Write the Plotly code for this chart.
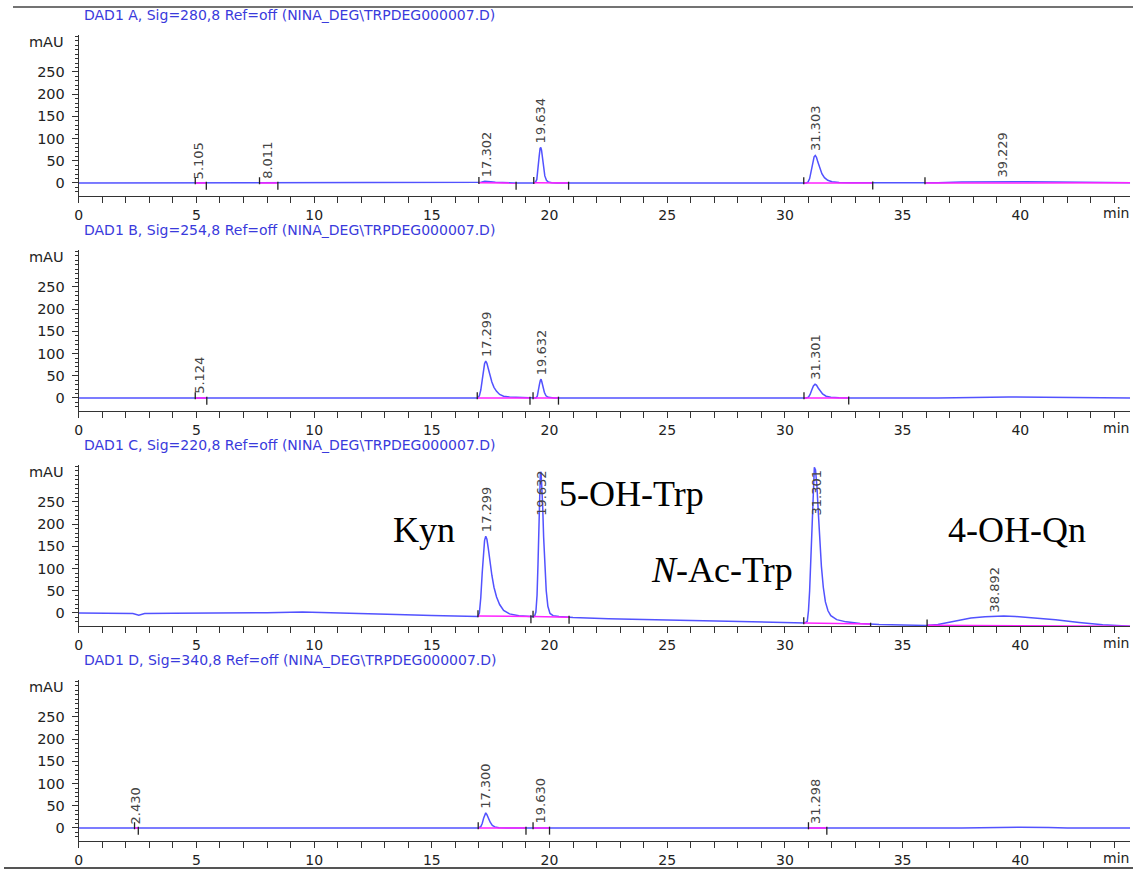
import numpy as np
import plotly.graph_objects as go

W, H = 1133, 872

# ---------------- data ----------------
titles = [
    "DAD1 A, Sig=280,8 Ref=off (NINA_DEG\\TRPDEG000007.D)",
    "DAD1 B, Sig=254,8 Ref=off (NINA_DEG\\TRPDEG000007.D)",
    "DAD1 C, Sig=220,8 Ref=off (NINA_DEG\\TRPDEG000007.D)",
    "DAD1 D, Sig=340,8 Ref=off (NINA_DEG\\TRPDEG000007.D)",
]

# Signal A (280 nm): time (min), absorbance (mAU)
tA = [0, 16.95, 17.1, 17.25, 17.35, 17.5, 17.7, 18.0, 18.5,
      19.3, 19.4, 19.46, 19.51, 19.56, 19.6, 19.63, 19.66, 19.7, 19.75, 19.8, 19.87, 19.95, 20.1, 20.3,
      30.9, 30.98, 31.05, 31.12, 31.18, 31.24, 31.29, 31.34, 31.4, 31.48, 31.57, 31.68, 31.82, 32.0,
      32.3, 32.8, 35.9, 36.5, 37.5, 38.5, 39.2, 40.2, 41.5, 43, 44.7]
yA = [0, 0, 1.5, 3.8, 4, 3, 1.5, 0.6, 0,
      0, 1.5, 8, 28, 60, 78, 80, 74, 55, 32, 16, 6, 2, 0.5, 0,
      0, 2, 10, 28, 48, 59, 62, 58, 47, 33, 21, 12, 6, 3,
      1.2, 0.3, 0, 0.5, 2, 3, 3.5, 3, 2.2, 1, 0.5]

# Signal B (254 nm)
tB = [0, 16.95, 17.02, 17.08, 17.14, 17.19, 17.24, 17.29, 17.34, 17.4, 17.47, 17.55, 17.64, 17.75,
      17.88, 18.05, 18.3, 18.7, 19.2, 19.42, 19.48, 19.53, 19.57, 19.61, 19.64, 19.67, 19.72, 19.78,
      19.85, 19.95, 20.2, 30.9, 31.0, 31.07, 31.14, 31.21, 31.28, 31.34, 31.42, 31.5, 31.6, 31.75,
      31.95, 32.3, 32.8, 36.5, 38, 39.5, 41, 42.5, 44.7]
yB = [0, 0, 5, 18, 40, 62, 77, 83, 78, 66, 50, 36, 24, 15,
      8, 4, 2, 0.8, 0, 0, 4, 15, 30, 40, 42, 37, 26, 13,
      5, 1.5, 0, 0, 2, 8, 18, 27, 31, 29, 22, 15, 9, 4,
      1.5, 0.5, 0, 0, 1.5, 2, 1.8, 1, 0]

# Signal C (220 nm)
tC = [0, 1.5, 2.3, 2.55, 2.8, 4, 6, 8, 9.5, 10.5, 12, 13.5, 15, 16.5,
      16.95, 17.02, 17.08, 17.14, 17.19, 17.24, 17.29, 17.34, 17.4, 17.47, 17.55, 17.64, 17.75, 17.88,
      18.05, 18.3, 18.7, 19.2, 19.36, 19.42, 19.47, 19.51, 19.55, 19.58, 19.61, 19.64, 19.67, 19.71,
      19.75, 19.8, 19.86, 19.93, 20.02, 20.15, 20.4, 21, 22.5, 25, 28, 30.85, 30.95, 31.0, 31.05,
      31.1, 31.15, 31.2, 31.25, 31.3, 31.36, 31.42, 31.48, 31.55, 31.63, 31.72, 31.83, 31.95, 32.2,
      32.6, 33.2, 34, 35, 36, 36.5, 37.0, 37.5, 37.9, 38.5, 38.9, 39.3, 39.8, 40.5, 41.5, 42.5,
      43.5, 44.7]
yC = [0, 0, -1, -5, -1, -0.5, -0.5, 0.5, 2, 1, -2, -3.5, -5.5, -7.5,
      -8, 0, 35, 90, 135, 163, 173, 166, 145, 115, 85, 58, 36, 19,
      6, -2, -6, -8, -8, 2, 40, 110, 200, 270, 315, 318, 295, 240,
      170, 105, 50, 15, -1, -6, -8, -10, -13, -16, -19, -22.5, -19, 5, 50,
      120, 210, 290, 328, 322, 285, 225, 165, 105, 58, 25, 5, -6, -15,
      -20, -23.5, -26, -27, -28, -26, -20.5, -15, -11.5, -8.3, -7.2, -7, -7.8, -10.5, -15.5, -21.5,
      -26.5, -30]

# Signal D (340 nm)
tD = [0, 16.97, 17.08, 17.14, 17.2, 17.25, 17.29, 17.34, 17.4, 17.48, 17.57, 17.68, 17.85, 18.2,
      19.4, 19.6, 19.8, 31.1, 31.3, 31.5, 37.5, 38.5, 40, 41.2, 42, 44.7]
yD = [0, 0, 3, 10, 22, 31, 34, 30, 22, 13, 6, 2.5, 0.5, 0,
      0, 0.8, 0, 0, 0.8, 0, 0, 1.2, 1.5, 1.2, 0, 0]

# Integration results: retention-time labels, peak start / end (min)
rtA = ["5.105", "8.011", "17.302", "19.634", "31.303", "39.229"]
startA = [4.95, 7.68, 17.0, 19.33, 30.8, 35.95]
endA = [5.42, 8.46, 18.58, 20.81, 33.73, 44.9]

rtB = ["5.124", "17.299", "19.632", "31.301"]
startB = [4.95, 16.93, 19.3, 30.81]
endB = [5.44, 19.17, 20.38, 32.71]

rtC = ["17.299", "19.632", "31.301", "38.892"]
startC = [16.96, 19.3, 30.8, 36.04]
endC = [19.21, 20.83, 33.64, 44.9]

rtD = ["2.430", "17.300", "19.630", "31.298"]
startD = [2.37, 16.97, 19.3, 31.0]
endD = [2.53, 19.0, 20.0, 31.78]

# Compound names written on signal C
compounds = ["Kyn", "5-OH-Trp", "<i>N</i>-Ac-Trp", "4-OH-Qn"]
compound_t = [14.65, 23.49, 27.34, 39.87]
compound_v = [187, 268, 97, 187]

x_ticks = [0, 5, 10, 15, 20, 25, 30, 35, 40]
y_ticks = [0, 50, 100, 150, 200, 250]

# ---------------- styling / layout ----------------
BLUE = "#5252ff"
MAGENTA = "#ff22ff"
TICKC = "#222222"
FONT = "DejaVu Sans"
XRANGE = [0, 44.66]
YRANGE = [-29.3, 333.3]
STEP = 215
TOP0, BOT0 = 35, 196

panels = [
    (tA, yA, rtA, startA, endA),
    (tB, yB, rtB, startB, endB),
    (tC, yC, rtC, startC, endC),
    (tD, yD, rtD, startD, endD),
]

fig = go.Figure()
annotations = []
layout = {}

for i, (t, v, rts, st, en) in enumerate(panels):
    n = "" if i == 0 else str(i + 1)
    xa, ya = "x" + n, "y" + n
    fig.add_trace(go.Scatter(x=t, y=v, mode="lines", xaxis=xa, yaxis=ya,
                             line=dict(color=BLUE, width=1.5),
                             hoverinfo="skip", showlegend=False))
    ta, va = np.array(t, float), np.array(v, float)
    bx, by, mx, my = [], [], [], []
    for s, e in zip(st, en):
        bs, be = float(np.interp(s, ta, va)), float(np.interp(e, ta, va))
        bx += [s, e, None]
        by += [bs, be, None]
        mx += [s, s, None, e, e, None]
        my += [bs - 3, bs + 13, None, be - 15, be + 3, None]
    fig.add_trace(go.Scatter(x=bx, y=by, mode="lines", xaxis=xa, yaxis=ya,
                             line=dict(color=MAGENTA, width=1.5),
                             hoverinfo="skip", showlegend=False))
    fig.add_trace(go.Scatter(x=mx, y=my, mode="lines", xaxis=xa, yaxis=ya,
                             line=dict(color=TICKC, width=1.3),
                             hoverinfo="skip", showlegend=False))
    # peak labels
    for lab in rts:
        r = float(lab)
        win = (ta >= r - 0.2) & (ta <= r + 0.2)
        apex = float(max(np.interp(r, ta, va), va[win].max() if win.any() else -1e9))
        if apex + 108 > YRANGE[1]:
            annotations.append(dict(x=r, y=YRANGE[1], xref=xa, yref=ya, text=lab, showarrow=False,
                                    textangle=-90, xanchor="center", yanchor="top", yshift=-3,
                                    font=dict(family=FONT, size=13, color="#444")))
        else:
            annotations.append(dict(x=r, y=apex, xref=xa, yref=ya, text=lab, showarrow=False,
                                    textangle=-90, xanchor="center", yanchor="bottom", yshift=2,
                                    font=dict(family=FONT, size=13, color="#444")))
    top, bot = TOP0 + STEP * i, BOT0 + STEP * i
    layout["xaxis" + n] = dict(
        domain=[75 / W, 1130 / W], range=XRANGE, anchor=ya, showline=True, linecolor="#333",
        linewidth=1, ticks="outside", ticklen=6, tickcolor="#333", tickmode="array",
        tickvals=x_ticks, ticktext=[str(k) for k in x_ticks],
        tickfont=dict(family=FONT, size=14, color="#222"),
        minor=dict(dtick=1, tick0=0, ticks="outside", ticklen=6, tickcolor="#333"),
        showgrid=False, zeroline=False, fixedrange=True)
    layout["yaxis" + n] = dict(
        domain=[1 - bot / H, 1 - top / H], range=YRANGE, anchor=xa, showline=True,
        linecolor="#333", linewidth=1, ticks="outside", ticklen=6, tickcolor="#333",
        tickmode="array", tickvals=y_ticks, ticktext=[str(k) for k in y_ticks],
        tickfont=dict(family=FONT, size=14.5, color="#222"), ticklabelstandoff=4,
        minor=dict(dtick=10, tick0=0, ticks="outside", ticklen=3, tickcolor="#333"),
        showgrid=False, zeroline=False, fixedrange=True)
    annotations.append(dict(x=78 / W, y=1 - (15 + STEP * i) / H, xref="paper", yref="paper",
                            text=titles[i], showarrow=False, xanchor="left", yanchor="middle",
                            font=dict(family=FONT, size=14, color="#3a3adc")))
    annotations.append(dict(x=62 / W, y=1 - (42 + STEP * i) / H, xref="paper", yref="paper",
                            text="mAU", showarrow=False, xanchor="right", yanchor="middle",
                            font=dict(family=FONT, size=14.5, color="#222")))
    annotations.append(dict(x=1131 / W, y=1 - (213 + STEP * i) / H, xref="paper", yref="paper",
                            text="min", showarrow=False, xanchor="right", yanchor="middle",
                            font=dict(family=FONT, size=14, color="#222")))

for txt, ct, cv in zip(compounds, compound_t, compound_v):
    annotations.append(dict(x=ct, y=cv, xref="x3", yref="y3", text=txt, showarrow=False,
                            xanchor="center", yanchor="middle",
                            font=dict(family="Liberation Serif", size=36, color="black")))

shapes = [
    dict(type="line", xref="paper", yref="paper", x0=9 / W, x1=1, y0=1 - 7 / H, y1=1 - 7 / H,
         line=dict(color="#444", width=1.5)),
    dict(type="line", xref="paper", yref="paper", x0=0, x1=1, y0=1 - 868 / H, y1=1 - 868 / H,
         line=dict(color="#555", width=2)),
]

fig.update_layout(width=W, height=H, margin=dict(l=0, r=0, t=0, b=0),
                  paper_bgcolor="white", plot_bgcolor="white", showlegend=False,
                  annotations=annotations, shapes=shapes, **layout)

fig.write_html("out.html", config={"displayModeBar": False})
